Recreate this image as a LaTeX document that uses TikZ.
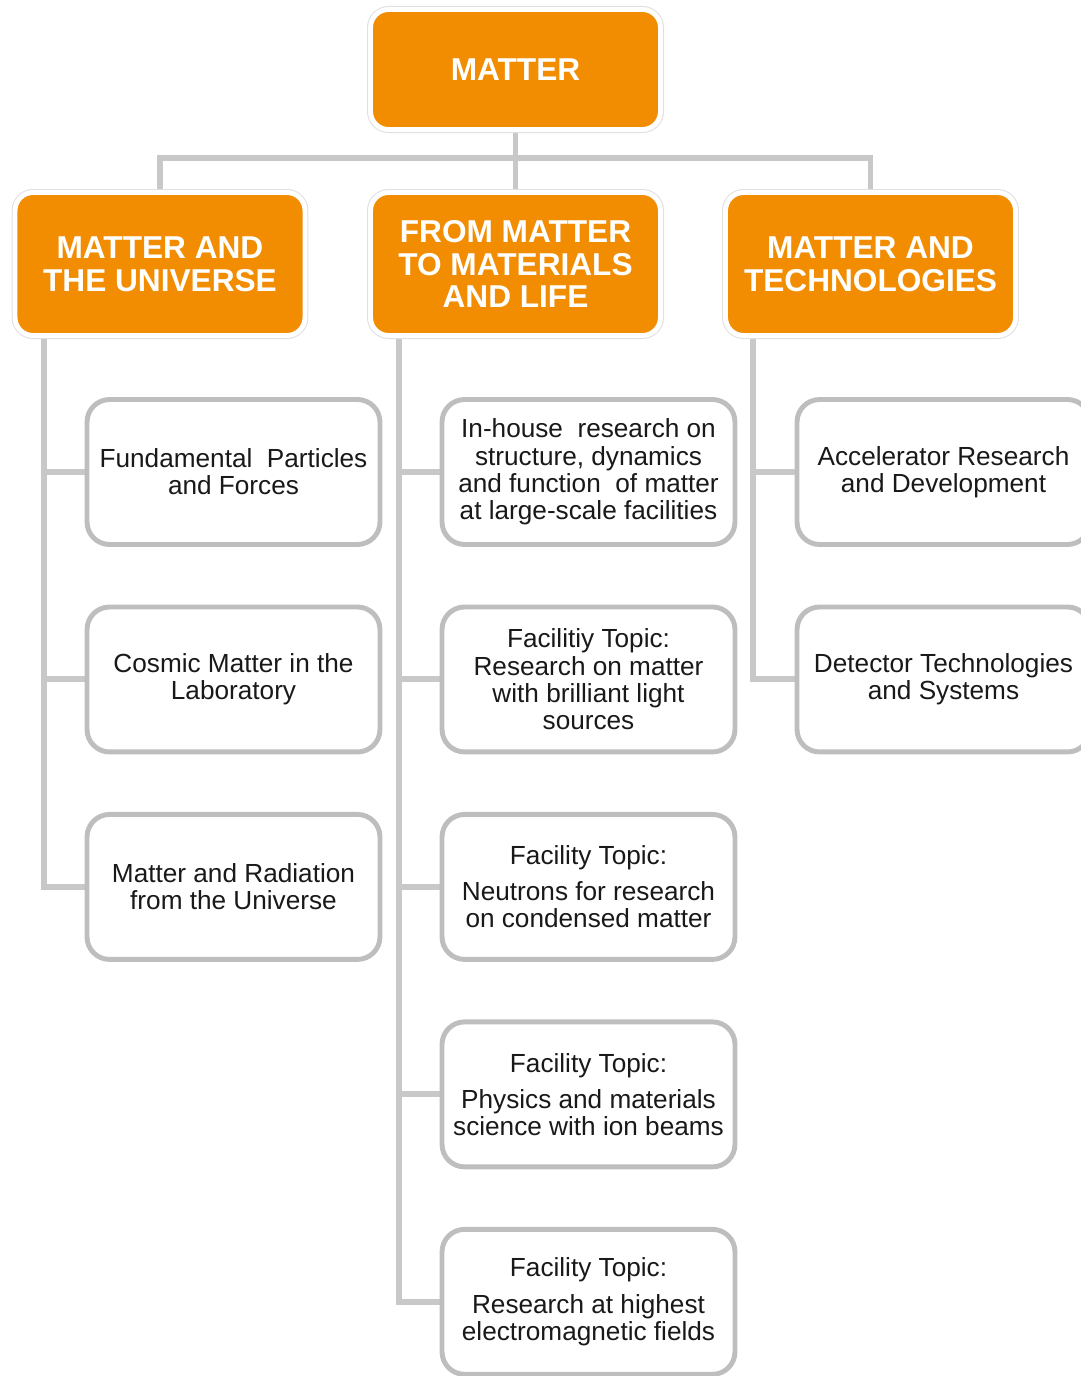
\documentclass[tikz,border=0pt]{standalone}
\usepackage{fontspec}
\setmainfont{Liberation Sans}
\usetikzlibrary{positioning,backgrounds,calc}
\definecolor{matterorange}{RGB}{242,140,0}
\definecolor{linkgray}{RGB}{200,200,200}
\definecolor{boxgray}{RGB}{190,190,190}

\begin{document}
\begin{tikzpicture}[
    x=0.02cm, y=-0.02cm,
    head/.style  ={rectangle, rounded corners=0.36cm, fill=matterorange,
                   draw=white, line width=2.8pt, outer sep=0pt,
                   preaction={draw=black!12, line width=4pt},
                   text=white, align=center, inner sep=1pt,
                   font=\bfseries\fontsize{18}{18.7}\selectfont,
                   minimum width=5.8cm, minimum height=2.86cm},
    child/.style ={rectangle, rounded corners=0.45cm, fill=white,
                   draw=boxgray, line width=2.8pt, outer sep=0pt,
                   text=black!90, align=center, inner sep=2pt,
                   font=\fontsize{14.9}{15.5}\selectfont,
                   minimum width=5.86cm, minimum height=2.9cm},
    link/.style  ={draw=linkgray, line width=3.4pt},
    node distance=1.25cm
]
\useasboundingbox (0,0) rectangle (1080,1376);

% --- top ---
\node[head, minimum height=2.4cm] (matter) at (515.5,69.5) {MATTER};

% --- three areas ---
\node[head] (univ) at (160,264)   {MATTER AND\\THE UNIVERSE};
\node[head] (life) at (515.5,264) {FROM MATTER\\TO MATERIALS\\AND LIFE};
\node[head] (tech) at (870.5,264) {MATTER AND\\TECHNOLOGIES};

% --- left column ---
\node[child] (fund) at (233.5,472) {Fundamental~ Particles\\and Forces};
\node[child, below=of fund]   (cosmic)    {Cosmic Matter in the\\Laboratory};
\node[child, below=of cosmic] (radiation) {Matter and Radiation\\from the Universe};

% --- middle column ---
\node[child] (inhouse) at (588.5,472)
    {In-house~ research on\\structure, dynamics\\and function~ of matter\\at large-scale facilities};
\node[child, below=of inhouse] (light)
    {Facilitiy Topic:\\Research on matter\\with brilliant light\\sources};
\node[child, below=of light] (neutron)
    {Facility Topic:\\[5pt]Neutrons for research\\on condensed matter};
\node[child, below=of neutron] (ion)
    {Facility Topic:\\[5pt]Physics and materials\\science with ion beams};
\node[child, below=of ion] (field)
    {Facility Topic:\\[5pt]Research at highest\\electromagnetic fields};

% --- right column ---
\node[child] (accel) at (943.5,472) {Accelerator Research\\and Development};
\node[child, below=of accel] (detector) {Detector Technologies\\and Systems};

% --- connectors ---
\begin{scope}[on background layer]
\draw[link] (matter.south) -- ++(0,28.5) coordinate (bar) -| (univ.north);
\draw[link] (bar) -| (tech.north);
\draw[link] (matter) -- (life);
\foreach \c in {fund,cosmic,radiation}
    \draw[link] ($(univ.south west)+(29,0)$) |- (\c.west);
\foreach \c in {inhouse,light,neutron,ion,field}
    \draw[link] ($(life.south west)+(28.5,0)$) |- (\c.west);
\foreach \c in {accel,detector}
    \draw[link] ($(tech.south west)+(27.5,0)$) |- (\c.west);
\end{scope}

\end{tikzpicture}
\end{document}
